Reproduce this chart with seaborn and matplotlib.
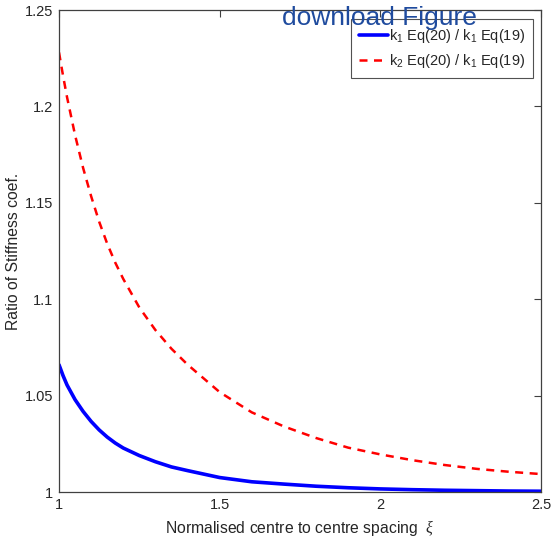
import numpy as np
import pandas as pd
import matplotlib
matplotlib.use("Agg")
import matplotlib.pyplot as plt
import seaborn as sns

# Normalised centre-to-centre spacing
xi = [1.0, 1.0125, 1.025, 1.05, 1.075, 1.1, 1.125, 1.15, 1.175, 1.2, 1.25,
      1.3, 1.35, 1.4, 1.5, 1.6, 1.7, 1.8, 1.9, 2.0, 2.1, 2.2, 2.3, 2.4, 2.5]

# k1 Eq(20) / k1 Eq(19)
ratio_k1 = [1.066, 1.0604, 1.0555, 1.0479, 1.0418, 1.0366, 1.0322, 1.0285,
            1.0254, 1.0228, 1.0189, 1.0157, 1.013, 1.0111, 1.0075, 1.0053,
            1.0041, 1.0030, 1.0022, 1.0016, 1.0012, 1.0009, 1.0007, 1.0005,
            1.0004]

# k2 Eq(20) / k1 Eq(19)
ratio_k2 = [1.228, 1.216, 1.2048, 1.1851, 1.1681, 1.1534, 1.1402, 1.1288,
            1.119, 1.1105, 1.0957, 1.084, 1.0743, 1.0661, 1.0518, 1.0413,
            1.034, 1.028, 1.023, 1.0195, 1.0165, 1.014, 1.012, 1.0105, 1.0093]

series_labels = [r"k$_1$ Eq(20) / k$_1$ Eq(19)", r"k$_2$ Eq(20) / k$_1$ Eq(19)"]
x_ticks = [1, 1.5, 2, 2.5]
x_tick_labels = ["1", "1.5", "2", "2.5"]
y_ticks = [1, 1.05, 1.1, 1.15, 1.2, 1.25]
y_tick_labels = ["1", "1.05", "1.1", "1.15", "1.2", "1.25"]

sns.set_theme(style="white")
plt.rcParams["font.family"] = ["Liberation Sans", "DejaVu Sans"]
plt.rcParams["mathtext.fontset"] = "custom"
plt.rcParams["mathtext.rm"] = "Liberation Sans"
plt.rcParams["mathtext.it"] = "Liberation Serif:italic"

axis_grey = "#404040"
text_grey = "#262626"

df = pd.DataFrame({
    "xi": xi * 2,
    "ratio": ratio_k1 + ratio_k2,
    "series": [series_labels[0]] * len(xi) + [series_labels[1]] * len(xi),
})

fig = plt.figure(figsize=(5.54, 5.38), dpi=100)
ax = fig.add_axes([59 / 554, 1 - 492 / 538, 482 / 554, 482 / 538])

sns.lineplot(data=df[df.series == series_labels[0]], x="xi", y="ratio",
             color="#0000ff", linewidth=2.6, ax=ax, label=series_labels[0])
sns.lineplot(data=df[df.series == series_labels[1]], x="xi", y="ratio",
             color="#ff0000", linewidth=1.8, linestyle=(0, (3.2, 2.6)),
             ax=ax, label=series_labels[1])

ax.set_xlim(1, 2.5)
ax.set_ylim(1, 1.25)
ax.set_xticks(x_ticks)
ax.set_xticklabels(x_tick_labels)
ax.set_yticks(y_ticks)
ax.set_yticklabels(y_tick_labels)

ax.tick_params(direction="in", length=5, width=0.8, colors=axis_grey,
               labelcolor=text_grey, labelsize=10.5, top=True, right=True,
               pad=4)
for side in ax.spines.values():
    side.set_visible(True)
    side.set_color(axis_grey)
    side.set_linewidth(0.9)

ax.set_xlabel(r"Normalised centre to centre spacing  $\xi$", fontsize=11.3,
              color=text_grey, labelpad=5)
ax.set_ylabel("Ratio of Stiffness coef.", fontsize=11.3, color=text_grey,
              labelpad=3)

leg = ax.legend(loc="upper right", bbox_to_anchor=(0.983, 0.981),
                fontsize=10.5, frameon=True, fancybox=False,
                handlelength=1.95, handletextpad=0.05, borderpad=0.55,
                labelspacing=0.5, borderaxespad=0.0)
leg.get_frame().set_edgecolor(text_grey)
leg.get_frame().set_linewidth(0.8)
for t in leg.get_texts():
    t.set_color(text_grey)

fig.text(282 / 554, 1 - 25 / 538, "download Figure", fontsize=19,
         color="#1f4b9e", ha="left", va="baseline", zorder=10)

fig.savefig("out.png", dpi=100, facecolor="white")
